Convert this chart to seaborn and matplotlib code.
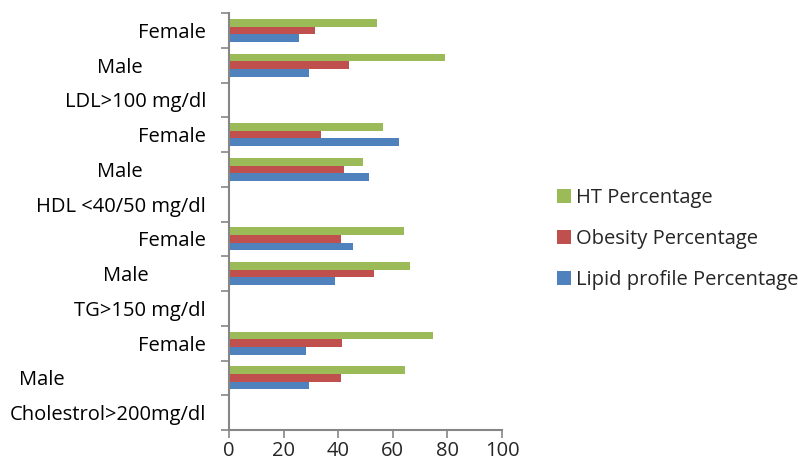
import pandas as pd
import matplotlib
matplotlib.use("Agg")
import matplotlib.pyplot as plt
import matplotlib.transforms as mtransforms
import seaborn as sns

# Data (top to bottom, as drawn)
categories = ["Female", "Male", "LDL>100 mg/dl",
              "Female", "Male", "HDL <40/50 mg/dl",
              "Female", "Male", "TG>150 mg/dl",
              "Female", "Male", "Cholestrol>200mg/dl"]
ht_pct = [54.3, 79.3, 0, 56.5, 49.0, 0, 64.0, 66.4, 0, 74.8, 64.6, 0]
obesity_pct = [31.6, 43.9, 0, 33.7, 42.1, 0, 40.9, 53.2, 0, 41.5, 41.0, 0]
lipid_pct = [25.5, 29.3, 0, 62.2, 51.2, 0, 45.6, 38.9, 0, 28.1, 29.3, 0]
series_names = ["HT Percentage", "Obesity Percentage", "Lipid profile Percentage"]
colors = ["#9BBB59", "#C0504D", "#4F81BD"]

# long table for seaborn, one unique key per row position
keys = [f"c{i}" for i in range(len(categories))]
rows = []
for name, vals in zip(series_names, [ht_pct, obesity_pct, lipid_pct]):
    for k, v in zip(keys, vals):
        rows.append({"key": k, "series": name, "value": v})
df = pd.DataFrame(rows)

sns.set_style("white")
plt.rcParams["font.family"] = ["Open Sans", "DejaVu Sans"]
fs = 14.5

fig = plt.figure(figsize=(7.98, 4.68), dpi=100)
ax = fig.add_axes([229 / 798, 38 / 468, 273 / 798, 417 / 468])

sns.barplot(data=df, y="key", x="value", hue="series", order=keys,
            hue_order=series_names, palette=colors, width=0.66,
            orient="h", ax=ax, saturation=1, linewidth=0)

ax.set_xlim(0, 100)
ax.set_ylim(len(keys) - 0.5, -0.5)
ax.set_xticks([0, 20, 40, 60, 80, 100])
ax.set_xlabel("")
ax.set_ylabel("")

# labels at category centres, tick marks at boundaries (Excel style)
ax.set_yticks(range(len(keys)))
ax.set_yticklabels(categories)
ax.set_yticks([i - 0.5 for i in range(len(keys) + 1)], minor=True)
ax.tick_params(axis="y", which="major", length=0, pad=16.5, labelsize=fs, labelcolor="#000000")
ax.tick_params(axis="y", which="minor", length=6, width=1.2, color="#868686", left=True)
ax.tick_params(axis="x", which="major", length=6, width=1.2, color="#868686", bottom=True,
               labelsize=fs, pad=2)

for side in ["top", "right"]:
    ax.spines[side].set_visible(False)
for side in ["left", "bottom"]:
    ax.spines[side].set_color("#868686")
    ax.spines[side].set_linewidth(1.5)

# the "Male" labels are centred further left in the original (centre x in px)
male_centre_px = {1: 120, 4: 120, 7: 126, 10: 42}
anchor_px = 229 - 16.5 * 100 / 72
for idx, lab in enumerate(ax.get_yticklabels()):
    if idx in male_centre_px:
        lab.set_ha("center")
        off = mtransforms.ScaledTranslation(-(anchor_px - male_centre_px[idx]) / 100, 0,
                                            fig.dpi_scale_trans)
        lab.set_transform(lab.get_transform() + off)

handles, labels = ax.get_legend_handles_labels()
ax.legend(handles, labels, loc="center left", bbox_to_anchor=(557 / 798, 229 / 468),
          bbox_transform=fig.transFigure, frameon=False, fontsize=fs,
          borderaxespad=0, borderpad=0,
          handlelength=0.7, handleheight=0.7, handletextpad=0.25, labelspacing=1.05)

fig.savefig("out.png", dpi=100)
